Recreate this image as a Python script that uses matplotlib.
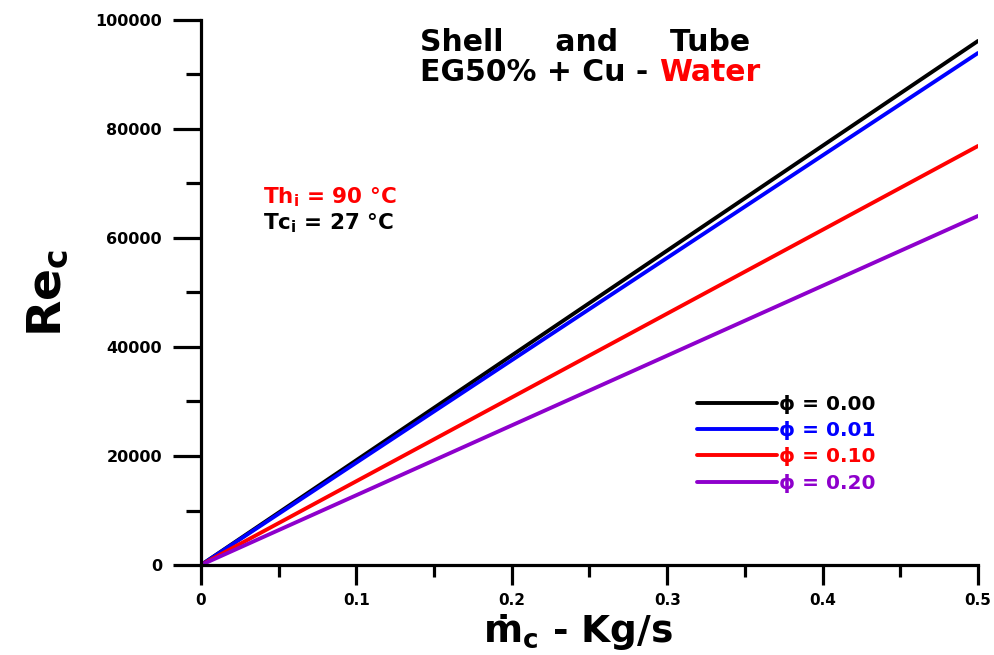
import matplotlib
matplotlib.use("Agg")
import matplotlib.pyplot as plt
from matplotlib.ticker import MultipleLocator

plt.rcParams['font.family'] = ['DejaVu Sans']
plt.rcParams['font.weight'] = 'bold'
plt.rcParams['mathtext.fontset'] = 'custom'
plt.rcParams['mathtext.rm'] = 'DejaVu Sans:bold'
plt.rcParams['mathtext.it'] = 'DejaVu Sans:bold'
plt.rcParams['mathtext.bf'] = 'DejaVu Sans:bold'

# Cold-side mass flow rate (kg/s) and Reynolds number for each volume fraction
mass_flow = [0.0, 0.1, 0.2, 0.3, 0.4, 0.5]
re_phi_000 = [0, 19230, 38460, 57690, 76920, 96150]
re_phi_001 = [0, 18790, 37580, 56360, 75150, 93940]
re_phi_010 = [0, 15380, 30750, 46130, 61500, 76880]
re_phi_020 = [0, 12810, 25620, 38420, 51230, 64040]
x_tick_labels = ['0', '0.1', '0.2', '0.3', '0.4', '0.5']

series = [
    (re_phi_000, '#000000', 'ϕ = 0.00'),
    (re_phi_001, '#0000FF', 'ϕ = 0.01'),
    (re_phi_010, '#FF0000', 'ϕ = 0.10'),
    (re_phi_020, '#8E00CC', 'ϕ = 0.20'),
]

fig = plt.figure(figsize=(9.94, 6.55), dpi=100)
ax = fig.add_axes([0.2022, 0.1374, 0.7817, 0.8321])

for values, color, label in series:
    ax.plot(mass_flow, values, color=color, lw=2.8, label=label,
            solid_capstyle='round')

ax.set_xlim(0, 0.5)
ax.set_ylim(0, 100000)
ax.set_xticks(mass_flow)
ax.set_xticklabels(x_tick_labels)
ax.xaxis.set_minor_locator(MultipleLocator(0.05))
ax.yaxis.set_major_locator(MultipleLocator(20000))
ax.yaxis.set_minor_locator(MultipleLocator(10000))

for side in ('top', 'right'):
    ax.spines[side].set_visible(False)
for side in ('left', 'bottom'):
    ax.spines[side].set_linewidth(2.3)

ax.tick_params(axis='x', which='major', length=14.5, width=2.3, pad=6,
               labelsize=11)
ax.tick_params(axis='x', which='minor', length=8.5, width=2.3)
ax.tick_params(axis='y', which='major', length=20, width=2.3, pad=8,
               labelsize=11.5)
ax.tick_params(axis='y', which='minor', length=11, width=2.3)

ax.set_ylabel('Re$_c$', fontsize=34, fontweight='bold')
ax.yaxis.set_label_coords(-0.168, 0.5)
ax.set_xlabel('ṁ$_c$ - Kg/s', fontsize=27, fontweight='bold')
ax.xaxis.label.set_verticalalignment('bottom')
ax.xaxis.set_label_coords(0.485, -0.1605)

ax.text(0.282, 0.985, 'Shell     and     Tube', transform=ax.transAxes,
        fontsize=21.5, fontweight='bold', va='top', ha='left')
t2 = ax.text(0.282, 0.93, 'EG50% + Cu - ', transform=ax.transAxes,
             fontsize=21.5, fontweight='bold', va='top', ha='left')
ax.annotate('Water', xy=(1, 0), xycoords=t2, va='bottom', ha='left',
            fontsize=21.5, fontweight='bold', color='#FF0000')

ax.text(0.08, 0.697, 'Th$_i$ = 90 °C', transform=ax.transAxes,
        fontsize=15.5, fontweight='bold', va='top', ha='left', color='#FF0000')
ax.text(0.08, 0.648, 'Tc$_i$ = 27 °C', transform=ax.transAxes,
        fontsize=15.5, fontweight='bold', va='top', ha='left', color='#000000')

ax.legend(loc='upper left', bbox_to_anchor=(0.638, 0.312), frameon=False,
          handlelength=4.0, handletextpad=0.1, labelspacing=0.36,
          borderpad=0, borderaxespad=0, labelcolor='linecolor',
          prop={'size': 14.5, 'weight': 'bold'})

fig.savefig('out.png', dpi=100)
